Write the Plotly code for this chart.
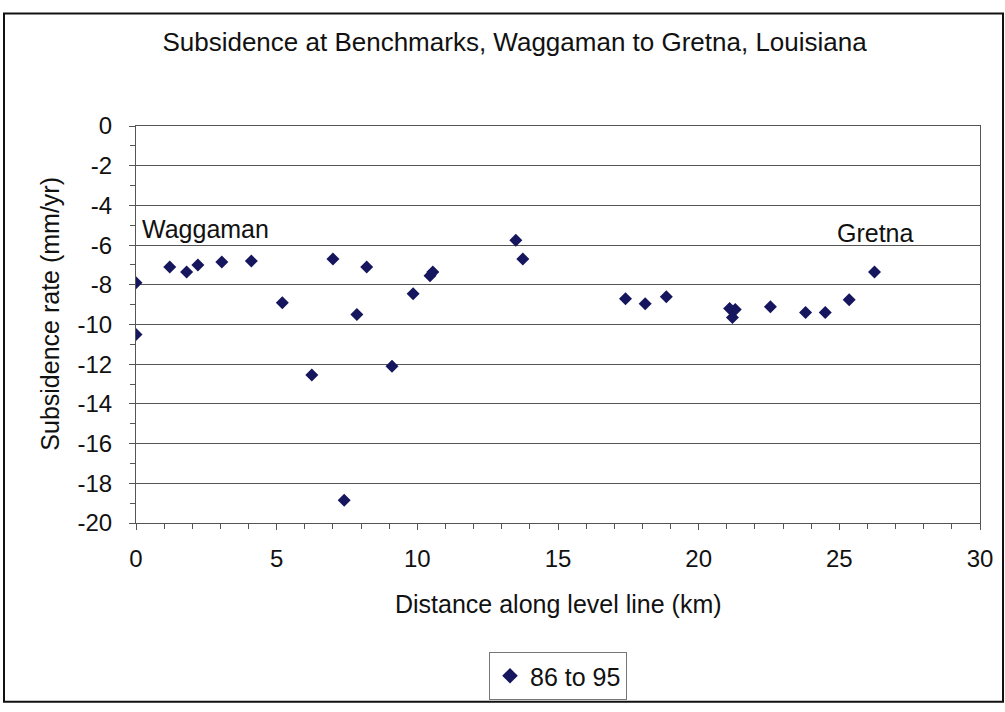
"""Subsidence at benchmarks along the Waggaman-Gretna level line."""

import plotly.graph_objects as go

# ---------------------------------------------------------------------------
# Data
# ---------------------------------------------------------------------------

distance_km = [
    0.0, 0.0, 1.2, 1.8, 2.2, 3.05, 4.1, 5.2, 6.25, 7.0, 7.4, 7.85, 8.2,
    9.1, 9.85, 10.45, 10.55, 13.5, 13.75, 17.4, 18.1, 18.85,
    21.1, 21.3, 21.2, 22.55, 23.8, 24.5, 25.35, 26.25,
]
rate_mm_yr = [
    -7.9, -10.5, -7.1, -7.35, -7.0, -6.85, -6.8, -8.9, -12.55, -6.7, -18.85, -9.5, -7.1,
    -12.1, -8.45, -7.55, -7.35, -5.75, -6.7, -8.7, -8.95, -8.6,
    -9.2, -9.25, -9.65, -9.1, -9.4, -9.4, -8.75, -7.35,
]
series_name = "86 to 95"

x_ticks = [0, 5, 10, 15, 20, 25, 30]
y_ticks = [0, -2, -4, -6, -8, -10, -12, -14, -16, -18, -20]
y_tick_text = ["0", "-2", "-4", "-6", "-8", "-10", "-12", "-14", "-16", "-18", "-20"]

FONT = "Arial, Liberation Sans, sans-serif"
MARKER = "#16165e"
GRID = "#555555"

fig = go.Figure()
fig.add_trace(go.Scatter(
    x=distance_km, y=rate_mm_yr, mode="markers", name=series_name,
    marker={"symbol": "diamond", "size": 10, "color": MARKER},
))

axis_common = dict(
    showline=True, linecolor=GRID, linewidth=1, mirror=True,
    ticks="outside", ticklen=6, tickcolor=GRID,
    tickfont={"size": 24, "color": "#111"},
    zeroline=False,
)
fig.update_xaxes(
    range=[0, 30], tickvals=x_ticks, showgrid=False, ticklabelstandoff=8,
    minor={"dtick": 1, "ticks": "outside", "ticklen": 5, "tickcolor": GRID},
    **axis_common,
)
fig.update_yaxes(
    range=[-20, 0], tickvals=y_ticks, ticktext=y_tick_text,
    showgrid=True, gridcolor=GRID, gridwidth=1, ticklabelstandoff=12,
    minor={"dtick": 1, "ticks": "outside", "ticklen": 5, "tickcolor": GRID},
    **axis_common,
)

fig.update_layout(
    width=1005, height=712,
    margin={"l": 136, "r": 25, "t": 126, "b": 179},
    paper_bgcolor="white", plot_bgcolor="white",
    font={"family": FONT, "color": "#111"},
    title={
        "text": "Subsidence at Benchmarks, Waggaman to Gretna, Louisiana",
        "x": 0.512, "xanchor": "center", "y": 1 - 42 / 712, "yanchor": "middle",
        "font": {"size": 26, "family": FONT, "color": "#111"},
    },
    showlegend=True,
    legend={
        "x": 0.5, "xanchor": "center", "y": -0.325, "yanchor": "top",
        "bordercolor": "#777", "borderwidth": 1,
        "font": {"size": 25}, "itemsizing": "constant",
    },
)

annotations = [
    # axis titles
    dict(text="Distance along level line (km)", xref="paper", yref="paper",
         x=0.5, y=-0.205, xanchor="center", yanchor="middle",
         showarrow=False, font={"size": 25}),
    dict(text="Subsidence rate (mm/yr)", xref="paper", yref="paper",
         x=-0.102, y=0.527, xanchor="center", yanchor="middle", textangle=-90,
         showarrow=False, font={"size": 25}),
    # place labels
    dict(text="Waggaman", x=0.15, y=-5.2, xanchor="left", yanchor="middle",
         showarrow=False, font={"size": 25}),
    dict(text="Gretna", x=26.27, y=-5.38, xanchor="center", yanchor="middle",
         showarrow=False, font={"size": 25}),
]
fig.update_layout(annotations=annotations)

# outer frame around the whole chart (bottom edge falls just off the page)
fig.add_shape(
    type="rect", xref="paper", yref="paper",
    x0=(4 - 136) / 844, x1=(1003 - 136) / 844,
    y0=(532.7 - 716) / 407.2, y1=(532.7 - 10) / 407.2,
    line={"color": "#111", "width": 2}, layer="below",
)

# drop the browser's default body margin so the figure sits at the page origin
fig.write_html(
    "out.html",
    config={"displayModeBar": False},
    post_script="document.body.style.margin = '0';",
)
